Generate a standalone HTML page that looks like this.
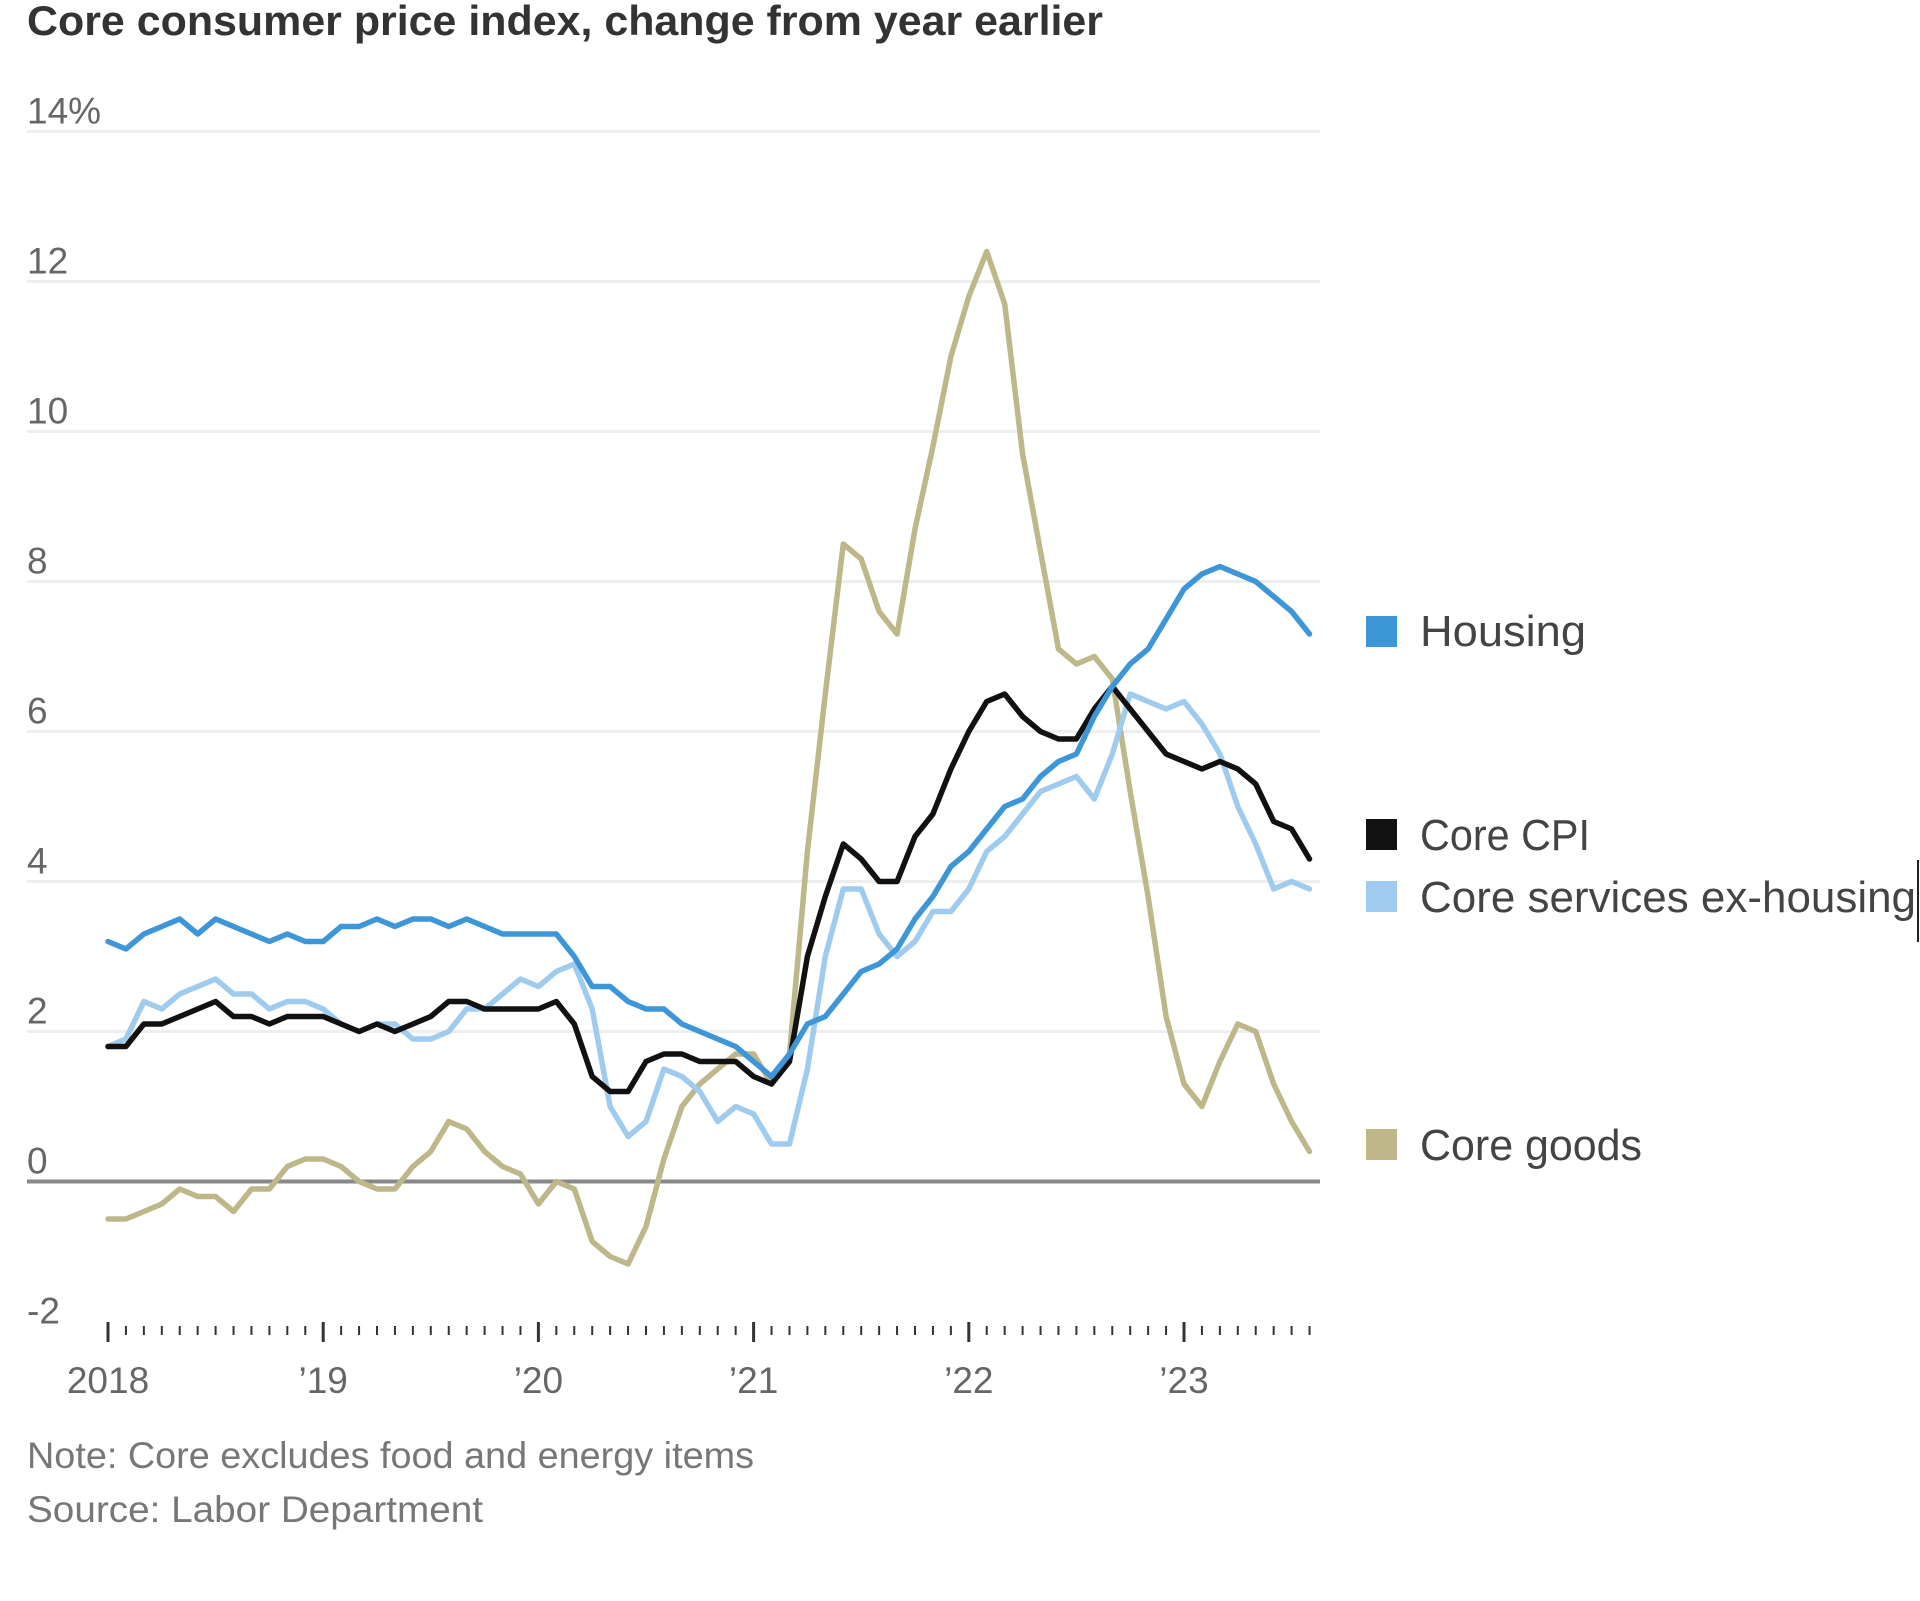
<!DOCTYPE html>
<html><head><meta charset="utf-8"><style>
html,body{margin:0;padding:0;background:#fff;}
svg{display:block;}
text{font-family:"Liberation Sans",sans-serif;}
</style></head><body>
<svg id="chart" width="1920" height="1601" viewBox="0 0 1920 1601">
<text x="27" y="35" font-size="42" font-weight="bold" fill="#333" textLength="1076" lengthAdjust="spacingAndGlyphs">Core consumer price index, change from year earlier</text>
<g id="grid"></g>
<g id="ylabels"></g>
<g id="xaxis"></g>
<g id="lines"></g>
<g>
 <g><rect x="1366" y="616" width="31" height="31" fill="#3d96d8"/><text x="1420" y="646" font-size="44" fill="#444" textLength="166" lengthAdjust="spacingAndGlyphs">Housing</text></g>
 <g><rect x="1366" y="819" width="31" height="31" fill="#111"/><text x="1420" y="850" font-size="44" fill="#444" textLength="170" lengthAdjust="spacingAndGlyphs">Core CPI</text></g>
 <g><rect x="1366" y="881" width="31" height="31" fill="#9ecbee"/><text x="1420" y="912" font-size="44" fill="#444" textLength="496" lengthAdjust="spacingAndGlyphs">Core services ex-housing</text></g>
 <g><rect x="1366" y="1129" width="31" height="31" fill="#bdb78a"/><text x="1420" y="1160" font-size="44" fill="#444" textLength="222" lengthAdjust="spacingAndGlyphs">Core goods</text></g>
</g>
<line x1="1918" y1="860" x2="1918" y2="942" stroke="#222" stroke-width="2"/>
<text x="27" y="1468" font-size="37" fill="#777" textLength="727" lengthAdjust="spacingAndGlyphs">Note: Core excludes food and energy items</text>
<text x="27" y="1522" font-size="37" fill="#777" textLength="456" lengthAdjust="spacingAndGlyphs">Source: Labor Department</text>
</svg>
<script>
const yTicks=[14,12,10,8,6,4,2,0,-2];
const yTickLabels=["14%","12","10","8","6","4","2","0","-2"];
const xYears=[2018,2019,2020,2021,2022,2023];
const xYearLabels=["2018","\u201919","\u201920","\u201921","\u201922","\u201923"];
const coreCPI=[1.8,1.8,2.1,2.1,2.2,2.3,2.4,2.2,2.2,2.1,2.2,2.2,
2.2,2.1,2.0,2.1,2.0,2.1,2.2,2.4,2.4,2.3,2.3,2.3,
2.3,2.4,2.1,1.4,1.2,1.2,1.6,1.7,1.7,1.6,1.6,1.6,
1.4,1.3,1.6,3.0,3.8,4.5,4.3,4.0,4.0,4.6,4.9,5.5,
6.0,6.4,6.5,6.2,6.0,5.9,5.9,6.3,6.6,6.3,6.0,5.7,
5.6,5.5,5.6,5.5,5.3,4.8,4.7,4.3];
const housing=[3.2,3.1,3.3,3.4,3.5,3.3,3.5,3.4,3.3,3.2,3.3,3.2,
3.2,3.4,3.4,3.5,3.4,3.5,3.5,3.4,3.5,3.4,3.3,3.3,
3.3,3.3,3.0,2.6,2.6,2.4,2.3,2.3,2.1,2.0,1.9,1.8,
1.6,1.4,1.7,2.1,2.2,2.5,2.8,2.9,3.1,3.5,3.8,4.2,
4.4,4.7,5.0,5.1,5.4,5.6,5.7,6.2,6.6,6.9,7.1,7.5,
7.9,8.1,8.2,8.1,8.0,7.8,7.6,7.3];
const servicesExHousing=[1.8,1.9,2.4,2.3,2.5,2.6,2.7,2.5,2.5,2.3,2.4,2.4,
2.3,2.1,2.0,2.1,2.1,1.9,1.9,2.0,2.3,2.3,2.5,2.7,
2.6,2.8,2.9,2.3,1.0,0.6,0.8,1.5,1.4,1.2,0.8,1.0,
0.9,0.5,0.5,1.5,3.0,3.9,3.9,3.3,3.0,3.2,3.6,3.6,
3.9,4.4,4.6,4.9,5.2,5.3,5.4,5.1,5.7,6.5,6.4,6.3,
6.4,6.1,5.7,5.0,4.5,3.9,4.0,3.9];
const coreGoods=[-0.5,-0.5,-0.4,-0.3,-0.1,-0.2,-0.2,-0.4,-0.1,-0.1,0.2,0.3,
0.3,0.2,0.0,-0.1,-0.1,0.2,0.4,0.8,0.7,0.4,0.2,0.1,
-0.3,0.0,-0.1,-0.8,-1.0,-1.1,-0.6,0.3,1.0,1.3,1.5,1.7,
1.7,1.3,1.7,4.4,6.5,8.5,8.3,7.6,7.3,8.7,9.8,11.0,
11.8,12.4,11.7,9.7,8.4,7.1,6.9,7.0,6.7,5.2,3.8,2.2,
1.3,1.0,1.6,2.1,2.0,1.3,0.8,0.4];

const NS="http://www.w3.org/2000/svg";
const X0=108, PER_MONTH=215.2/12, Y0=1181.5, PER_UNIT=75;
function xScale(monthIndex){return X0+monthIndex*PER_MONTH;}
function yScale(v){return Y0-v*PER_UNIT;}
function mk(tag,attrs,parent){const e=document.createElementNS(NS,tag);for(const k in attrs)e.setAttribute(k,attrs[k]);parent.appendChild(e);return e;}

const grid=document.getElementById('grid'), yl=document.getElementById('ylabels');
yTicks.forEach((t,i)=>{
  if(t!==-2){
    const l=mk('line',{x1:27,x2:1320,y1:yScale(t),y2:yScale(t),stroke:t===0?'#888':'#eeeeee','stroke-width':t===0?4:3},grid);
    
    
  }
  const tx=mk('text',{x:27,y:yScale(t)-8,'font-size':37,fill:'#666'},yl);
  tx.textContent=yTickLabels[i];
  
  
});
const xa=document.getElementById('xaxis');
const nMonths=coreCPI.length;
for(let m=0;m<nMonths;m++){
  const major=m%12===0;
  const tk=mk('line',{x1:xScale(m),x2:xScale(m),y1:major?1322:1326,y2:major?1342:1335,stroke:'#333','stroke-width':major?3:2},xa);
  
  
}
xYears.forEach((y,i)=>{
  const tx=mk('text',{x:xScale((y-2018)*12),y:1393,'font-size':37,fill:'#666','text-anchor':'middle'},xa);
  tx.textContent=xYearLabels[i];
  
  
});
const lines=document.getElementById('lines');
function drawSeries(arr,color,name){
  const d=arr.map((v,i)=>(i?'L':'M')+xScale(i).toFixed(1)+' '+yScale(v).toFixed(1)).join(' ');
  const p=mk('path',{d:d,fill:'none',stroke:color,'stroke-width':5.5,'stroke-linejoin':'round','stroke-linecap':'round'},lines);
  
  
}
drawSeries(coreGoods,'#bdb78a','core-goods-line');
drawSeries(servicesExHousing,'#9ecbee','core-services-line');
drawSeries(coreCPI,'#111111','core-cpi-line');
drawSeries(housing,'#3d96d8','housing-line');
</script>
</body></html>
